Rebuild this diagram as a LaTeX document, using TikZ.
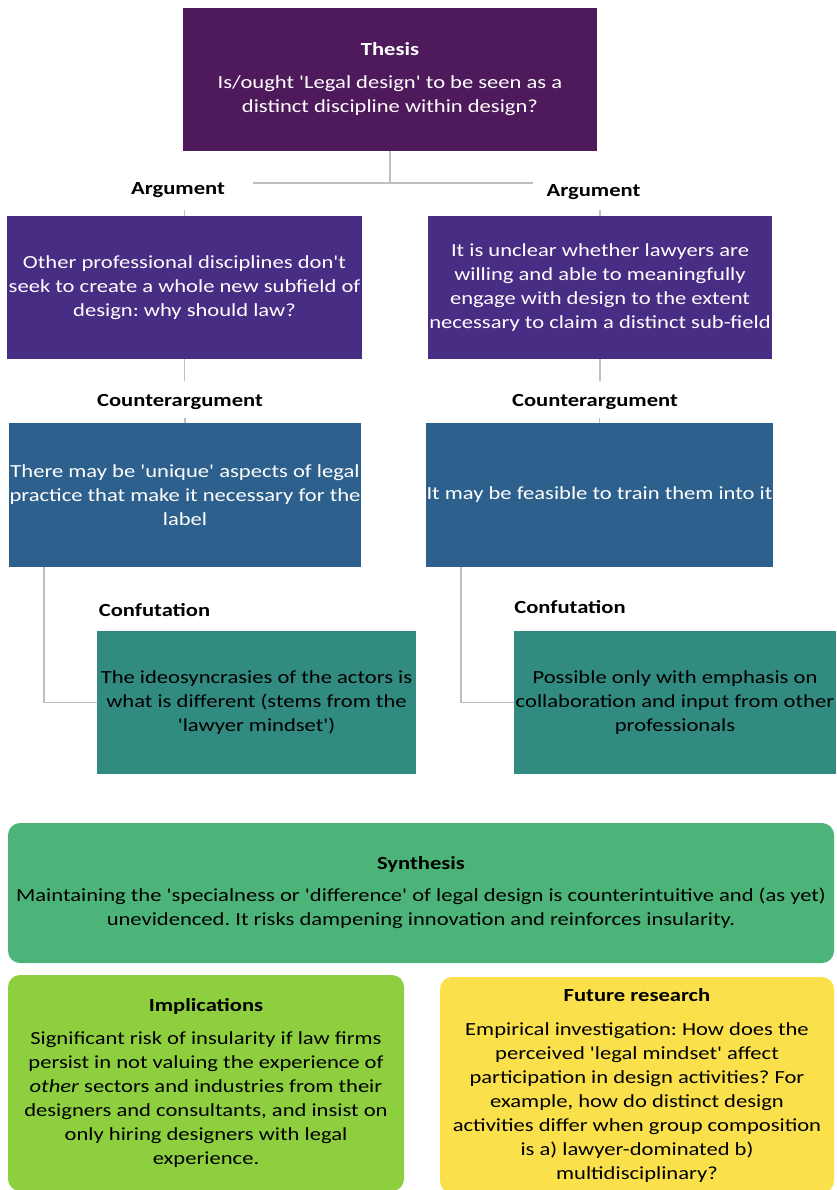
\documentclass[tikz,border=0pt]{standalone}
\usepackage{fontspec}
\setmainfont{Carlito}[Ligatures=TeXOff, FakeStretch=1.22]
\frenchspacing
\definecolor{thesisC}{RGB}{78,26,92}
\definecolor{argC}{RGB}{72,45,133}
\definecolor{cntC}{RGB}{45,96,140}
\definecolor{confC}{RGB}{50,139,128}
\definecolor{synC}{RGB}{76,180,120}
\definecolor{impC}{RGB}{141,207,62}
\definecolor{futC}{RGB}{250,225,75}
\definecolor{lineC}{RGB}{191,191,191}
\begin{document}
\begin{tikzpicture}[x=1pt,y=-1pt,
  every node/.style={font=\fontsize{18.5}{24}\selectfont},
  box/.style={rectangle, inner sep=0pt, align=center},
  sharp/.style={box, text=white},
  soft/.style={box, rounded corners=12pt, text=black},
  lbl/.style={font=\fontsize{18.5}{24}\selectfont\bfseries, inner sep=1pt},
  link/.style={draw=lineC, line width=1.5pt}]
\useasboundingbox (0,0) rectangle (836,1190);

% thesis
\node[sharp, fill=thesisC, minimum width=414pt, minimum height=143pt] (thesis) at (390,79.5)
  {\textbf{Thesis}\\[9pt]Is/ought 'Legal design' to be seen as a\\distinct discipline within design?};

% arguments
\node[lbl] (argLlab) at (178,190) {Argument};
\node[lbl] (argRlab) at (593.5,192) {Argument};
\node[sharp, fill=argC, minimum width=355pt, minimum height=143pt] (argL) at (184.5,287.5)
  {Other professional disciplines don't\\seek to create a whole new subfield of\\design: why should law?};
\node[sharp, fill=argC, minimum width=344pt, minimum height=143pt] (argR) at (600,287.5)
  {It is unclear whether lawyers are\\willing and able to meaningfully\\engage with design to the extent\\necessary to claim a distinct sub-field};

% counterarguments
\node[lbl] (cntLlab) at (180,402) {Counterargument};
\node[lbl] (cntRlab) at (595,402) {Counterargument};
\node[sharp, fill=cntC, minimum width=352pt, minimum height=144pt] (cntL) at (185,495)
  {There may be 'unique' aspects of legal\\practice that make it necessary for the\\label};
\node[sharp, fill=cntC, minimum width=347pt, minimum height=144pt] (cntR) at (599.5,495)
  {It may be feasible to train them into it};

% confutations
\node[lbl] (confLlab) at (154.5,610) {Confutation};
\node[lbl] (confRlab) at (570,607) {Confutation};
\node[box, text=black, fill=confC, minimum width=319pt, minimum height=143pt] (confL) at (256.5,702.5)
  {The ideosyncrasies of the actors is\\what is different (stems from the\\'lawyer mindset')};
\node[box, text=black, fill=confC, minimum width=322pt, minimum height=143pt] (confR) at (675,702.5)
  {Possible only with emphasis on\\collaboration and input from other\\professionals};

% synthesis, implications, future research
\node[soft, fill=synC, minimum width=826pt, minimum height=140pt] (syn) at (421,893)
  {\textbf{Synthesis}\\[8pt]Maintaining the 'specialness or 'difference' of legal design is counterintuitive and (as yet)\\unevidenced. It risks dampening innovation and reinforces insularity.};
\node[soft, fill=impC, minimum width=396pt, minimum height=216pt] (imp) at (206,1083)
  {\textbf{Implications}\\[9pt]Significant risk of insularity if law firms\\persist in not valuing the experience of\\\textit{other} sectors and industries from their\\designers and consultants, and insist on\\only hiring designers with legal\\experience.};
\node[soft, fill=futC, minimum width=394pt, minimum height=216pt] (fut) at (637,1085)
  {\textbf{Future research}\\[10pt]Empirical investigation: How does the\\perceived 'legal mindset' affect\\participation in design activities? For\\example, how do distinct design\\activities differ when group composition\\is a) lawyer-dominated b)\\multidisciplinary?};

% connectors
\draw[link] (thesis.south) -- ++(0,32) coordinate (junc);
\draw[link] ([xshift=-137pt]junc) -- ([xshift=143pt]junc);
\draw[link] (argL.north) -- ++(0,-6);
\draw[link] (argR.north) -- ++(0,-6);
\draw[link] (argL.south) -- ++(0,22);
\draw[link] (argR.south) -- ++(0,22);
\draw[link] (cntL.north) -- ++(0,-5);
\draw[link] (cntR.north) -- ++(0,-5);
\draw[link] ([xshift=35pt]cntL.south west) |- (confL.west);
\draw[link] ([xshift=35pt]cntR.south west) |- (confR.west);
\end{tikzpicture}
\end{document}
